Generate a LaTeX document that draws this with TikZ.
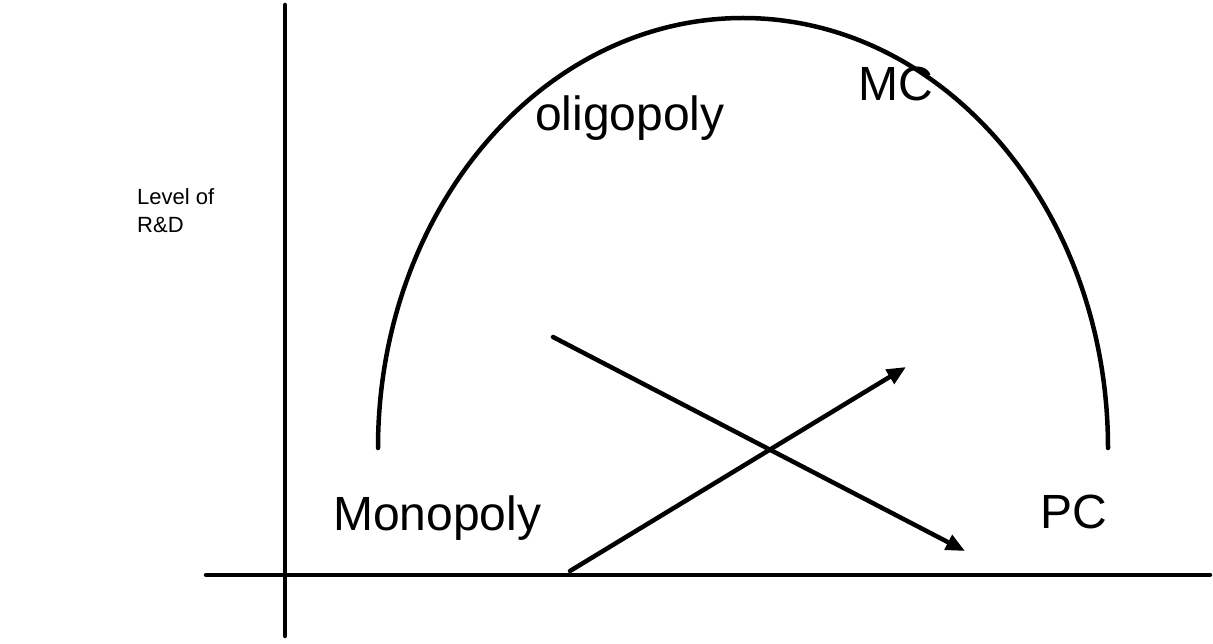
\documentclass[tikz,border=0pt]{standalone}
\usepackage{fontspec}
\setmainfont{Liberation Sans}
\usetikzlibrary{arrows.meta}
\tikzset{
  ln/.style={line width=4.5pt, line cap=round},
  arr/.style={ln, -{Triangle[length=19pt,width=16pt]}},
  big/.style={inner sep=0pt, font=\fontsize{48}{58}\selectfont},
  small/.style={inner sep=0pt, align=left, font=\fontsize{22}{28}\selectfont}
}
\begin{document}
\begin{tikzpicture}[x=1pt,y=-1pt]
\useasboundingbox (0,0) rectangle (1213,644);
% axes
\coordinate (yt) at (285,5);
\coordinate (yb) at (285,636);
\coordinate (xl) at (206,575);
\coordinate (xr) at (1210,575);
\draw[ln] (yt) -- (yb);
\draw[ln] (xl) -- (xr);
% arc
\coordinate (al) at (378,448);
\draw[ln] (al) arc[start angle=180, end angle=0, x radius=365, y radius=-430];
% arrows
\coordinate (a1s) at (553,337);
\coordinate (a1e) at (965,551);
\coordinate (a2s) at (570,571);
\coordinate (a2e) at (906,367);
\draw[arr] (a1s) -- (a1e);
\draw[arr] (a2s) -- (a2e);
% labels
\node[small, anchor=north west] (lvl) at (137,188) {Level of\\R\&D};
\node[big, anchor=base west] (mono) at (333,530) {Monopoly};
\node[big, anchor=base west] (pc) at (1040,528) {PC};
\node[big, anchor=base west] (oli) at (535,131) {oligopoly};
\node[big, anchor=base west] (mc) at (858,101) {MC};
\end{tikzpicture}
\end{document}
